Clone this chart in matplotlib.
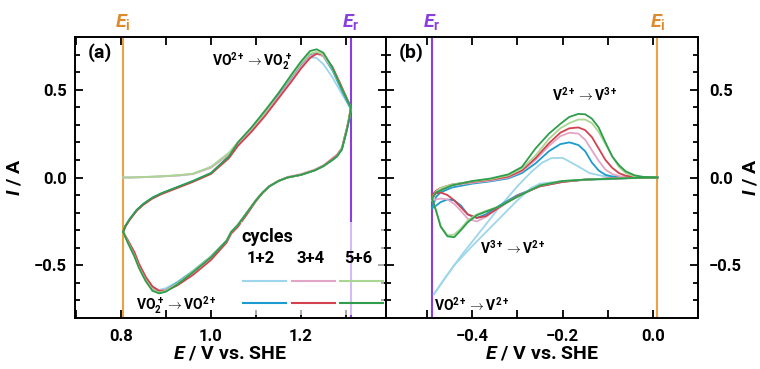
import matplotlib
matplotlib.use("Agg")
import matplotlib.pyplot as plt
from matplotlib.ticker import MultipleLocator
from matplotlib.patches import Rectangle

plt.rcParams['font.family'] = ['Roboto', 'DejaVu Sans']
plt.rcParams['font.weight'] = 'bold'
plt.rcParams['axes.labelweight'] = 'bold'
plt.rcParams['mathtext.fontset'] = 'custom'
plt.rcParams['mathtext.rm'] = 'Roboto:bold'
plt.rcParams['mathtext.bf'] = 'Roboto:bold'
plt.rcParams['mathtext.it'] = 'Roboto:bold:italic'

# ---------------- data ----------------
cycle_labels = ["1+2", "3+4", "5+6"]
colors = ["#9dd6ea", "#1b9bcf", "#e3a5c7", "#d3414f", "#a9d690", "#2f9d4c"]

# panel (a): positive electrolyte
a_fwd_E = [0.805, 0.81, 0.82, 0.835, 0.85, 0.87, 0.89, 0.93, 0.96, 1.00, 1.04, 1.06, 1.09, 1.12, 1.15, 1.18, 1.20, 1.22, 1.235, 1.25, 1.27, 1.29, 1.311]
a_fwd_I = [
    [0.0, 0.0, 0.0, 0.001, 0.002, 0.004, 0.006, 0.012, 0.02, 0.06, 0.14, 0.20, 0.28, 0.38, 0.47, 0.56, 0.63, 0.685, 0.68, 0.645, 0.57, 0.48, 0.39],
    [-0.31, -0.275, -0.235, -0.185, -0.15, -0.115, -0.09, -0.05, -0.02, 0.025, 0.12, 0.195, 0.28, 0.37, 0.47, 0.57, 0.64, 0.70, 0.71, 0.69, 0.61, 0.50, 0.39],
    [0.0, 0.0, 0.0, 0.001, 0.002, 0.004, 0.006, 0.012, 0.02, 0.055, 0.13, 0.19, 0.27, 0.36, 0.46, 0.56, 0.63, 0.69, 0.705, 0.69, 0.62, 0.51, 0.40],
    [-0.31, -0.28, -0.24, -0.19, -0.155, -0.12, -0.095, -0.055, -0.025, 0.02, 0.11, 0.18, 0.26, 0.35, 0.45, 0.55, 0.62, 0.68, 0.705, 0.70, 0.63, 0.52, 0.40],
    [0.0, 0.0, 0.0, 0.001, 0.003, 0.005, 0.007, 0.014, 0.022, 0.06, 0.14, 0.20, 0.28, 0.37, 0.48, 0.58, 0.65, 0.705, 0.715, 0.70, 0.62, 0.51, 0.40],
    [-0.31, -0.275, -0.235, -0.185, -0.15, -0.115, -0.09, -0.05, -0.02, 0.025, 0.12, 0.20, 0.285, 0.38, 0.48, 0.59, 0.66, 0.72, 0.73, 0.71, 0.625, 0.51, 0.40],
]
a_rev_E = [1.311, 1.307, 1.302, 1.296, 1.291, 1.28, 1.27, 1.25, 1.23, 1.20, 1.17, 1.15, 1.13, 1.115, 1.10, 1.08, 1.06, 1.045, 1.035, 1.00, 0.96, 0.925, 0.90, 0.885, 0.87, 0.855, 0.84, 0.83, 0.815, 0.805]
a_rev_I = [
    [0.39, 0.33, 0.27, 0.21, 0.16, 0.12, 0.10, 0.065, 0.04, 0.015, 0.0, -0.02, -0.05, -0.085, -0.13, -0.20, -0.27, -0.31, -0.36, -0.45, -0.53, -0.595, -0.63, -0.64, -0.625, -0.57, -0.495, -0.43, -0.36, -0.31],
    [0.39, 0.33, 0.27, 0.21, 0.16, 0.12, 0.10, 0.065, 0.04, 0.015, 0.0, -0.02, -0.05, -0.085, -0.13, -0.20, -0.27, -0.31, -0.36, -0.45, -0.535, -0.60, -0.64, -0.65, -0.635, -0.58, -0.505, -0.44, -0.365, -0.31],
    [0.40, 0.34, 0.28, 0.22, 0.17, 0.13, 0.11, 0.07, 0.045, 0.02, 0.003, -0.018, -0.048, -0.083, -0.128, -0.198, -0.27, -0.31, -0.36, -0.455, -0.54, -0.605, -0.64, -0.645, -0.63, -0.575, -0.50, -0.435, -0.36, -0.31],
    [0.40, 0.34, 0.28, 0.22, 0.165, 0.125, 0.105, 0.065, 0.04, 0.015, 0.0, -0.02, -0.05, -0.088, -0.135, -0.21, -0.28, -0.32, -0.37, -0.47, -0.555, -0.615, -0.645, -0.645, -0.62, -0.565, -0.49, -0.425, -0.355, -0.31],
    [0.40, 0.335, 0.275, 0.215, 0.165, 0.12, 0.10, 0.065, 0.04, 0.015, 0.0, -0.02, -0.05, -0.085, -0.13, -0.20, -0.27, -0.31, -0.36, -0.45, -0.535, -0.605, -0.645, -0.655, -0.64, -0.585, -0.51, -0.445, -0.365, -0.31],
    [0.40, 0.33, 0.27, 0.21, 0.16, 0.12, 0.10, 0.065, 0.04, 0.015, 0.0, -0.02, -0.05, -0.085, -0.13, -0.20, -0.27, -0.31, -0.36, -0.455, -0.54, -0.61, -0.65, -0.66, -0.645, -0.59, -0.515, -0.45, -0.37, -0.31],
]

# panel (b): negative electrolyte
b1_cath_E = [0.01, -0.05, -0.10, -0.15, -0.20, -0.25, -0.27, -0.30, -0.35, -0.40, -0.44, -0.485]
b1_cath_I = [0.0, -0.005, -0.01, -0.015, -0.02, -0.035, -0.06, -0.13, -0.26, -0.39, -0.50, -0.665]
b1_an_E = [-0.485, -0.46, -0.42, -0.38, -0.34, -0.30, -0.27, -0.245, -0.225, -0.20, -0.17, -0.14, -0.11, -0.08, -0.04, 0.01]
b1_an_I = [-0.665, -0.57, -0.43, -0.30, -0.17, -0.05, 0.03, 0.085, 0.11, 0.112, 0.07, 0.025, 0.008, 0.003, 0.001, 0.0]

b_cath_E = [0.01, -0.05, -0.10, -0.15, -0.20, -0.25, -0.30, -0.34, -0.37, -0.39, -0.41, -0.425, -0.44, -0.455, -0.47, -0.48, -0.489]
b_cath_I = [
    [0.0, -0.003, -0.006, -0.012, -0.025, -0.05, -0.10, -0.16, -0.21, -0.23, -0.21, -0.16, -0.13, -0.125, -0.14, -0.16, -0.175],
    [0.0, -0.003, -0.006, -0.012, -0.025, -0.05, -0.105, -0.17, -0.225, -0.25, -0.235, -0.19, -0.15, -0.125, -0.12, -0.125, -0.13],
    [0.0, -0.003, -0.006, -0.012, -0.025, -0.05, -0.105, -0.17, -0.22, -0.23, -0.21, -0.17, -0.13, -0.10, -0.085, -0.09, -0.10],
    [0.0, -0.003, -0.007, -0.012, -0.02, -0.045, -0.11, -0.165, -0.19, -0.21, -0.245, -0.29, -0.325, -0.33, -0.275, -0.19, -0.12],
    [0.0, -0.003, -0.008, -0.012, -0.02, -0.045, -0.11, -0.165, -0.195, -0.215, -0.255, -0.30, -0.34, -0.335, -0.28, -0.19, -0.12],
]
b_an_E = [-0.489, -0.48, -0.47, -0.445, -0.40, -0.36, -0.32, -0.29, -0.26, -0.23, -0.205, -0.185, -0.165, -0.15, -0.135, -0.12, -0.105, -0.09, -0.075, -0.06, -0.04, -0.02, 0.01]
b_an_I = [
    [-0.175, -0.11, -0.085, -0.057, -0.035, -0.022, -0.005, 0.025, 0.08, 0.15, 0.19, 0.20, 0.185, 0.15, 0.085, 0.04, 0.015, 0.006, 0.003, 0.002, 0.001, 0.0, 0.0],
    [-0.13, -0.085, -0.065, -0.045, -0.03, -0.018, 0.0, 0.035, 0.10, 0.18, 0.235, 0.255, 0.25, 0.215, 0.155, 0.095, 0.045, 0.02, 0.008, 0.004, 0.002, 0.0, 0.0],
    [-0.10, -0.075, -0.06, -0.04, -0.025, -0.013, 0.005, 0.04, 0.11, 0.195, 0.255, 0.28, 0.285, 0.27, 0.23, 0.165, 0.10, 0.055, 0.025, 0.01, 0.003, 0.001, 0.0],
    [-0.12, -0.08, -0.06, -0.04, -0.022, -0.01, 0.012, 0.05, 0.125, 0.22, 0.28, 0.31, 0.33, 0.33, 0.31, 0.26, 0.19, 0.12, 0.06, 0.025, 0.006, 0.001, 0.0],
    [-0.12, -0.085, -0.074, -0.045, -0.02, -0.006, 0.018, 0.06, 0.165, 0.25, 0.305, 0.345, 0.362, 0.36, 0.335, 0.285, 0.20, 0.12, 0.07, 0.035, 0.012, 0.003, 0.0],
]

Ei_a, Er_a = 0.805, 1.311
Er_b, Ei_b = -0.49, 0.01

ORANGE = "#eaa245"
ORANGE_T = "#de8a2c"
PURPLE = "#8a3ee0"

# ---------------- figure ----------------
fig = plt.figure(figsize=(7.6, 3.69), dpi=100)
ax1 = fig.add_axes([75/760, 1-318/369, 311/760, 281/369])
ax2 = fig.add_axes([386/760, 1-318/369, 312/760, 281/369])

lw = 1.3
for k in range(6):
    ax1.plot(a_fwd_E, a_fwd_I[k], color=colors[k], lw=lw, zorder=3+k)
    ax1.plot(a_rev_E, a_rev_I[k], color=colors[k], lw=lw, zorder=3+k)

ax2.plot(b1_cath_E, b1_cath_I, color=colors[0], lw=lw, zorder=3)
ax2.plot(b1_an_E, b1_an_I, color=colors[0], lw=lw, zorder=3)
for k in range(5):
    ax2.plot(b_cath_E, b_cath_I[k], color=colors[k+1], lw=lw, zorder=4+k)
    ax2.plot(b_an_E, b_an_I[k], color=colors[k+1], lw=lw, zorder=4+k)

# vertical potential markers
ax1.axvline(Ei_a, color=ORANGE, lw=1.5, zorder=2)
ax1.axvline(Er_a, color=PURPLE, lw=1.5, zorder=2)
ax2.axvline(Er_b, color=PURPLE, lw=1.5, zorder=2)
ax2.axvline(Ei_b, color=ORANGE, lw=1.5, zorder=2)

for ax, xpos, lab, col in [(ax1, Ei_a, 'i', ORANGE_T), (ax1, Er_a, 'r', PURPLE),
                           (ax2, Er_b, 'r', PURPLE), (ax2, Ei_b, 'i', ORANGE_T)]:
    ax.text(xpos, 1.055, r'$\mathit{E}_\mathrm{%s}$' % lab, color=col, fontsize=14,
            ha='center', va='center', transform=ax.get_xaxis_transform(), clip_on=False)

# axes styling
for ax in (ax1, ax2):
    ax.set_ylim(-0.8, 0.8)
    ax.yaxis.set_major_locator(MultipleLocator(0.5))
    ax.yaxis.set_minor_locator(MultipleLocator(0.1))
    ax.xaxis.set_major_locator(MultipleLocator(0.2))
    ax.xaxis.set_minor_locator(MultipleLocator(0.1))
    ax.tick_params(which='both', direction='in', top=True, right=True, left=True, bottom=True,
                   width=1.3, labelsize=12)
    ax.tick_params(which='major', length=5.5)
    ax.tick_params(axis='y', which='minor', length=3.5)
    ax.tick_params(axis='x', which='minor', length=5.5)
    ax.tick_params(axis='x', pad=8)
    for s in ax.spines.values():
        s.set_linewidth(1.4)
    ax.set_xlabel(r'$\mathit{E}$ / V vs. SHE', fontsize=14, fontweight='bold', labelpad=0)

ax1.set_xlim(0.698, 1.389)
ax2.set_xlim(-0.591, 0.1)
ax1.set_xticks([0.8, 1.0, 1.2])
ax1.set_xticklabels(['0.8', '1.0', '1.2'], fontweight='bold')
ax2.set_xticks([-0.4, -0.2, 0.0])
ax2.set_xticklabels(['\u22120.4', '\u22120.2', '0.0'], fontweight='bold')
ax1.set_yticks([-0.5, 0.0, 0.5])
ax1.set_yticklabels(['\u22120.5', '0.0', '0.5'], fontweight='bold')
ax2.set_yticks([-0.5, 0.0, 0.5])
ax2.set_yticklabels(['\u22120.5', '0.0', '0.5'], fontweight='bold')
ax1.tick_params(axis='y', labelleft=True, labelright=False, pad=6)
ax2.tick_params(axis='y', labelleft=False, labelright=True, pad=8)

ax1.set_ylabel(r'$\mathit{I}$ / A', fontsize=14, fontweight='bold')
ax1.yaxis.set_label_coords(-0.165, 0.5)
ax2.yaxis.set_label_position('right')
ax2.set_ylabel(r'$\mathit{I}$ / A', fontsize=14, fontweight='bold', rotation=90)
ax2.yaxis.set_label_coords(1.14, 0.5)

# annotations
ax1.text(0.04, 0.945, '(a)', transform=ax1.transAxes, fontsize=14, ha='left', va='center')
ax2.text(0.04, 0.945, '(b)', transform=ax2.transAxes, fontsize=14, ha='left', va='center')
ax1.text(1.091, 0.665, r'VO$^{2+}$$\rightarrow$VO$_2^{\,+}$', fontsize=10, ha='center', va='center', zorder=20)
ax1.text(0.924, -0.727, r'VO$_2^{\,+}$$\rightarrow$VO$^{2+}$', fontsize=10, ha='center', va='center', zorder=20)
ax2.text(-0.151, 0.47, r'V$^{2+}$$\rightarrow$V$^{3+}$', fontsize=10, ha='center', va='center', zorder=20)
ax2.text(-0.309, -0.40, r'V$^{3+}$$\rightarrow$V$^{2+}$', fontsize=10, ha='center', va='center', zorder=20)
ax2.text(-0.402, -0.727, r'VO$^{2+}$$\rightarrow$V$^{2+}$', fontsize=10, ha='center', va='center', zorder=20)

# legend (manual)
ax1.add_patch(Rectangle((0.535, 0.01), 0.46, 0.33, transform=ax1.transAxes,
                        facecolor='white', alpha=0.65, edgecolor='none', zorder=15))
ax1.text(0.535, 0.288, 'cycles', transform=ax1.transAxes, fontsize=13, ha='left', va='center', zorder=20)
key_x = [(0.540, 0.678), (0.698, 0.836), (0.852, 0.990)]
for j in range(3):
    x0, x1 = key_x[j]
    ax1.text((x0 + x1) / 2 - 0.01, 0.210, cycle_labels[j], transform=ax1.transAxes, fontsize=12,
             ha='center', va='center', zorder=20)
    ax1.plot([x0, x1], [0.132, 0.132], transform=ax1.transAxes, color=colors[2*j], lw=1.5, zorder=20)
    ax1.plot([x0, x1], [0.053, 0.053], transform=ax1.transAxes, color=colors[2*j+1], lw=1.5, zorder=20)

fig.savefig('out.png', dpi=100)
